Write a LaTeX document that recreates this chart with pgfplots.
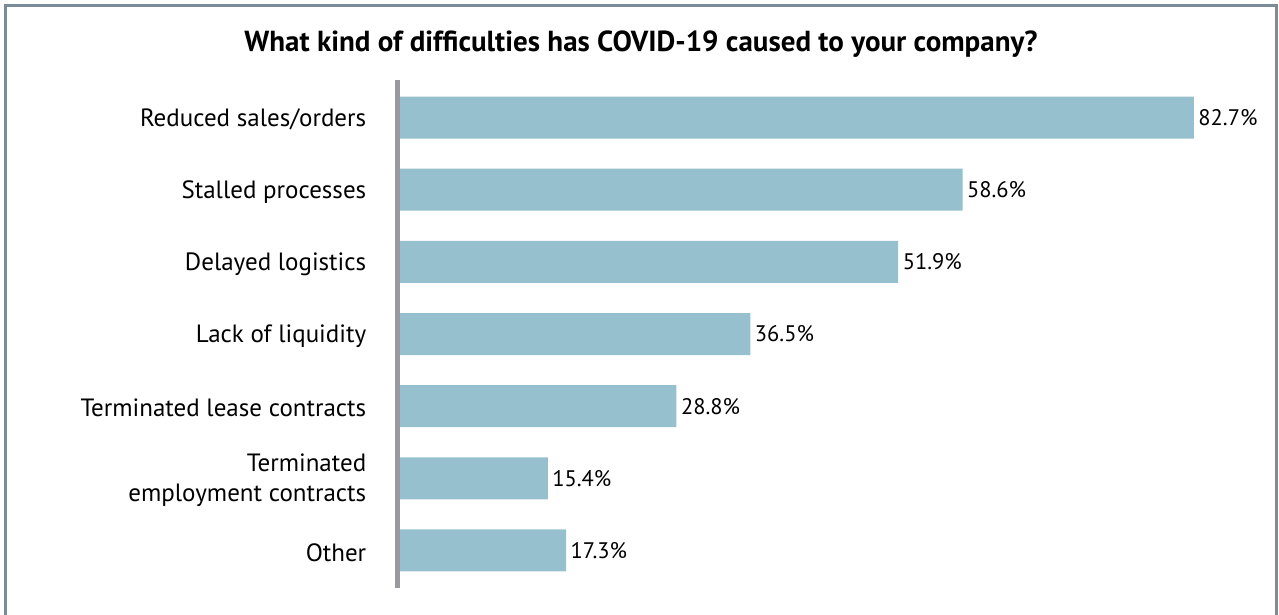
\documentclass[border=0pt]{standalone}
\usepackage{fontspec}
\setmainfont{PT Sans}
\usepackage{pgfplots}
\pgfplotsset{compat=1.18}
\definecolor{barc}{HTML}{96C0CE}
\definecolor{framec}{HTML}{7B8B97}
\definecolor{axc}{HTML}{9A9A9E}
\begin{document}
\begin{tikzpicture}
\useasboundingbox (0,0) rectangle (1279bp,615bp);
\draw[framec, line width=3bp] (5bp,-5bp) -- (5bp,609bp) -- (1276bp,609bp) -- (1276bp,-5bp);
\node[font=\fontsize{29bp}{33bp}\selectfont\bfseries] at (641bp,571bp) {What kind of difficulties has COVID-19 caused to your company?};
\begin{axis}[
  at={(400bp,27bp)}, anchor=south west,
  scale only axis, width=864bp, height=508bp,
  xmin=0, xmax=90, ymin=-0.52, ymax=6.52, y dir=reverse,
  axis line style={draw=none}, tick style={draw=none},
  xtick=\empty, ytick={0,1,2,3,4,5,6},
  yticklabels={Reduced sales/orders, Stalled processes, Delayed logistics, Lack of liquidity, Terminated lease contracts, {Terminated\\employment contracts}, Other},
  yticklabel style={font=\fontsize{25bp}{30bp}\selectfont, align=right, xshift=-26bp, yshift=-2bp},
  xbar, bar width=42bp,
  point meta=x,
  nodes near coords={\pgfmathprintnumber[fixed,fixed zerofill,precision=1,assume math mode=true]{\pgfplotspointmeta}\%},
  every node near coord/.append style={font=\fontsize{22.5bp}{26bp}\selectfont, anchor=west, xshift=1bp},
  clip=false,
]
\addplot[fill=barc, draw=none] coordinates {(82.7,0) (58.6,1) (51.9,2) (36.5,3) (28.8,4) (15.4,5) (17.3,6)};
\draw[axc, line width=5bp] ([xshift=-2.5bp]axis cs:0,-0.52) -- ([xshift=-2.5bp]axis cs:0,6.52);
\end{axis}
\end{tikzpicture}
\end{document}
